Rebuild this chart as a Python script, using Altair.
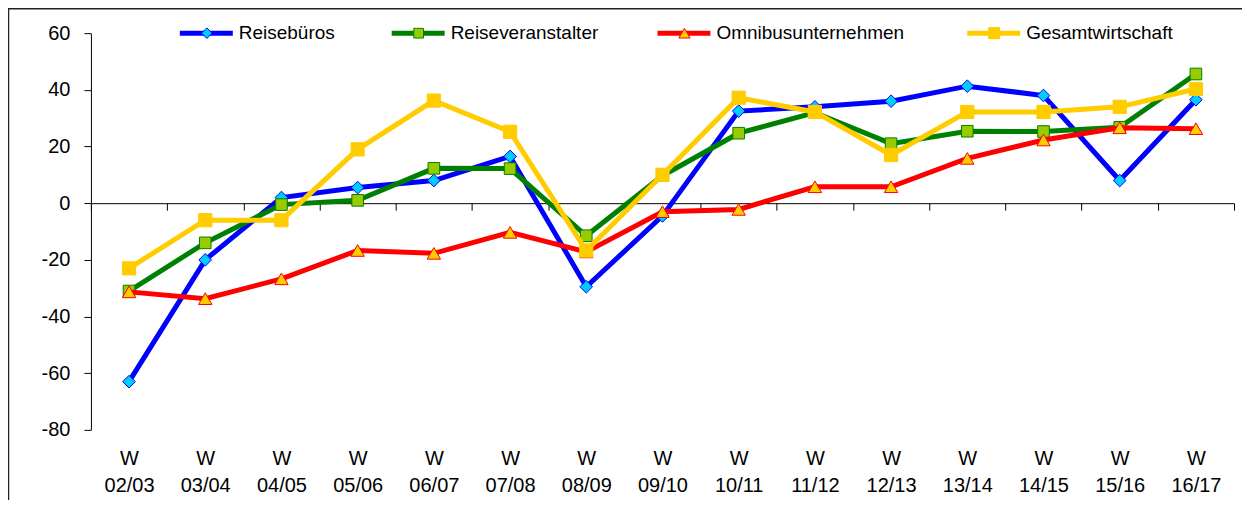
import altair as alt
import pandas as pd

categories = ["W 02/03", "W 03/04", "W 04/05", "W 05/06", "W 06/07", "W 07/08", "W 08/09",
              "W 09/10", "W 10/11", "W 11/12", "W 12/13", "W 13/14", "W 14/15", "W 15/16", "W 16/17"]
series = ["Reisebüros", "Reiseveranstalter", "Omnibusunternehmen", "Gesamtwirtschaft"]

reisebueros = [-63, -20, 2, 5.5, 8, 16.5, -29.5, -4.5, 32.5, 34, 36, 41.3, 38, 8, 36.5]
reiseveranstalter = [-31, -14, -0.5, 1, 12.3, 12.2, -11.5, 9.7, 24.7, 32, 21, 25.4, 25.3, 26.8, 45.6]
omnibus = [-31.3, -33.7, -26.7, -16.7, -17.7, -10.3, -17.2, -3, -2.2, 5.8, 5.8, 15.8, 22.3, 26.6, 26.3]
gesamt = [-23, -6, -6, 19, 36.2, 25.2, -16.7, 10, 37.2, 32.2, 17, 32.2, 32.2, 34, 40.3]

line_colors = ["#0000FF", "#008000", "#FF0000", "#FFCC00"]
fill_colors = ["#00CCFF", "#99CC00", "#FFCC00", "#FFCC00"]
shapes = ["diamond", "square", "triangle-up", "square"]
sizes = [160, 135, 180, 175]

FONT = "Liberation Sans"
W, H = 1144, 397

rows = []
for s, vals in zip(series, [reisebueros, reiseveranstalter, omnibus, gesamt]):
    for c, v in zip(categories, vals):
        rows.append({"cat": c, "val": v, "series": s})
df = pd.DataFrame(rows)

zero_offset = -(H - H * 60 / 140)

x_enc = alt.X("cat:N", sort=categories, bandPosition=0.5,
              scale=alt.Scale(type="band", paddingInner=0, paddingOuter=0),
              axis=alt.Axis(title=None, offset=zero_offset, tickBand="extent", tickSize=7,
                            labelPadding=239, labelExpr="split(datum.label, ' ')",
                            labelLineHeight=27, labelFontSize=20, labelAngle=0,
                            labelFont=FONT, labelColor="#000", domainColor="#000",
                            tickColor="#000", grid=False))
y_enc = alt.Y("val:Q", scale=alt.Scale(domain=[-80, 60], nice=False, zero=False),
              axis=alt.Axis(title=None, values=list(range(-80, 61, 20)), tickSize=7,
                            labelPadding=14, labelFontSize=20, labelFont=FONT,
                            labelExpr="toString(datum.value)",
                            labelColor="#000", domainColor="#000", tickColor="#000",
                            grid=False))

layers = []
for i, s in enumerate(series):
    base = alt.Chart(df).transform_filter(alt.datum.series == s)
    layers.append(base.mark_line(color=line_colors[i], strokeWidth=5).encode(x=x_enc, y=y_enc))
    layers.append(base.mark_point(shape=shapes[i], filled=True, fill=fill_colors[i],
                                  stroke=line_colors[i], strokeWidth=1, size=sizes[i],
                                  opacity=1).encode(x=x_enc, y=y_enc))

# legend (drawn as annotation)
one = pd.DataFrame({"a": [0]})
legend_x = [89, 301, 567, 877]
for i, s in enumerate(series):
    lx = legend_x[i]
    base = alt.Chart(one)
    layers.append(base.mark_rule(color=line_colors[i], strokeWidth=5).encode(
        x=alt.value(lx), x2=alt.value(lx + 53), y=alt.value(0)))
    layers.append(base.mark_point(shape=shapes[i], filled=True, fill=fill_colors[i],
                                  stroke=line_colors[i], strokeWidth=1, size=sizes[i] * 0.7,
                                  opacity=1).encode(x=alt.value(lx + 27), y=alt.value(0)))
    layers.append(base.mark_text(text=s, align="left", baseline="middle", fontSize=19,
                                 font=FONT, color="#000").encode(
        x=alt.value(lx + 59), y=alt.value(0)))

frame = alt.Chart(one).mark_rect(fillOpacity=0, stroke="#222", strokeWidth=1.5).encode(
    x=alt.value(-82.5), x2=alt.value(1250), y=alt.value(-24.5), y2=alt.value(H + 120))
layers.append(frame)

chart = alt.layer(*layers).properties(
    width=W, height=H,
    autosize=alt.AutoSizeParams(type="none"),
    padding={"left": 83, "top": 25, "right": 8, "bottom": 70},
).configure_view(stroke=None)

chart.save("out.html", embed_options={"renderer": "svg", "actions": False})
